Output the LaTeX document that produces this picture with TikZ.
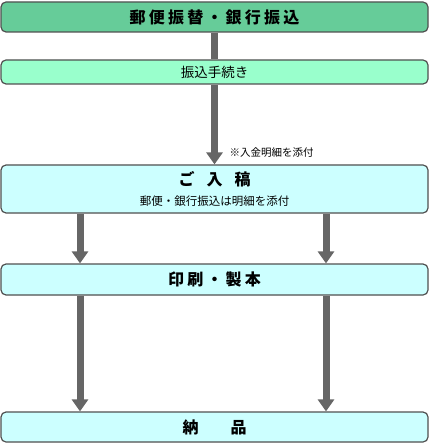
\documentclass[tikz,border=0pt]{standalone}
\usepackage{fontspec}
\setmainfont{Noto Sans CJK JP}
\usetikzlibrary{arrows.meta}
\definecolor{boxgray}{HTML}{505050}
\definecolor{flowgray}{HTML}{666666}
\definecolor{topgreen}{HTML}{66CC99}
\definecolor{stepgreen}{HTML}{99FFCC}
\definecolor{paleblue}{HTML}{CCFFFF}

\begin{document}
\begin{tikzpicture}[x=1pt,y=-1pt,>={Triangle[width=16pt,length=12pt]},
        box/.style={draw=boxgray,line width=1.2pt,rounded corners=5pt,minimum width=427pt,inner sep=0pt,align=center},
        flow/.style={draw=flowgray,line width=7pt},
        head/.style={font=\fontsize{16}{18}\selectfont\bfseries\addfontfeatures{LetterSpace=20}}]
        \useasboundingbox (0,0) rectangle (429,443);

        \node[box,fill=topgreen,minimum height=30pt,head] (furikae) at (214.5,17) {郵便振替・銀行振込};
        \node[box,fill=stepgreen,minimum height=24pt,font=\fontsize{13.5}{15}\selectfont] (tetsuzuki) at (214.5,72) {振込手続き};
        \node[box,fill=paleblue,minimum height=48pt] (nyuko) at (214.5,189)
              {{\fontsize{16}{18}\selectfont\bfseries ご\hspace{12pt}入\hspace{12pt}稿}\\[8pt]
               {\fontsize{11.5}{13}\selectfont 郵便・銀行振込は明細を添付}};
        \node[box,fill=paleblue,minimum height=31pt,head] (seihon) at (214.5,279.5) {印刷・製本};
        \node[box,fill=paleblue,minimum height=30pt,font=\fontsize{16}{18}\selectfont\bfseries] (nohin) at (214.5,427) {納　　品};

        \coordinate (colL) at (80,0);
        \coordinate (colR) at (326,0);

        \draw[flow] (furikae) -- (tetsuzuki);
        \draw[flow,->] (tetsuzuki) -- (nyuko);
        \node[anchor=west,font=\fontsize{10.5}{12}\selectfont] (meisai) at (226,153) {※入金明細を添付};

        \foreach \col in {colL,colR} {
                \draw[flow,->] (nyuko.south -| \col) -- (seihon.north -| \col);
                \draw[flow,->] (seihon.south -| \col) -- (nohin.north -| \col);
        }
\end{tikzpicture}
\end{document}
